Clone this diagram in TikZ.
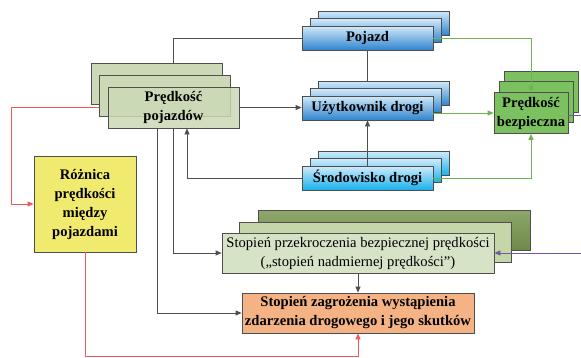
\documentclass[tikz,border=0pt]{standalone}
\usepackage{fontspec}
\setmainfont{Liberation Serif}
\usetikzlibrary{arrows.meta}
\definecolor{edge}{HTML}{4F4F4F}
\definecolor{pvgreen}{HTML}{CCD9B6}
\definecolor{blueTop}{HTML}{D2EAF9}
\definecolor{blueBot}{HTML}{2F84CE}
\definecolor{cyanBot}{HTML}{17B2EE}
\definecolor{pbgreen}{HTML}{7CC15F}
\definecolor{prA}{HTML}{D7E3C7}
\definecolor{prB}{HTML}{C5D6A8}
\definecolor{prC}{HTML}{7A9850}
\definecolor{zgorange}{HTML}{F4B285}
\definecolor{rzyellow}{HTML}{F0EB6E}
\definecolor{lnred}{HTML}{F25858}
\definecolor{lngreen}{HTML}{6DB34F}
\definecolor{lnpurple}{HTML}{6E5AA8}
\tikzset{
  bx/.style={draw=edge, line width=0.8pt, inner sep=0pt, align=center,
    font=\fontsize{14.6}{19}\selectfont\bfseries},
  bluebox/.style={bx, top color=blueTop, bottom color=blueBot, minimum width=131pt, minimum height=24pt},
  cyanbox/.style={bx, top color=blueTop, bottom color=cyanBot, minimum width=131pt, minimum height=24pt},
  pvbox/.style={bx, fill=pvgreen, minimum width=131pt, minimum height=41pt},
  pbbox/.style={bx, fill=pbgreen, minimum width=74pt, minimum height=41pt},
  prbox/.style={bx, minimum width=272pt, minimum height=40pt},
  conn/.style={draw=edge, line width=0.8pt},
  arr/.style={conn, -{Triangle[length=6pt,width=5pt]}},
  redarr/.style={draw=lnred, line width=0.8pt, -{Triangle[length=6pt,width=5pt]}},
  grnarr/.style={draw=lngreen, line width=0.8pt, -{Triangle[length=6pt,width=5pt]}},
  purarr/.style={draw=lnpurple, line width=0.8pt, -{Triangle[length=6pt,width=5pt]}},
}
\begin{document}
\begin{tikzpicture}[x=1pt,y=-1pt]
\clip (0,0) rectangle (581,357);
\fill[white] (0,0) rectangle (581,357);
% Prędkość pojazdów stack
\node[pvbox] (pv3) at (156.5,83.5) {};
\node[pvbox] (pv2) at (164.5,96) {};
\node[pvbox, fill opacity=0.85, text opacity=1] (pv) at (173.5,107.5) {Prędkość\\pojazdów};
% Pojazd stack
\node[bluebox] (pj3) at (383.5,23) {};
\node[bluebox] (pj2) at (375.5,30.5) {};
\node[bluebox] (pj) at (367.5,38) {Pojazd};
% Użytkownik drogi stack
\node[bluebox] (u3) at (383.5,93) {};
\node[bluebox] (u2) at (375.5,100.5) {};
\node[bluebox] (u) at (367.5,108) {Użytkownik drogi};
% Środowisko drogi stack
\node[cyanbox] (sr3) at (383.5,163) {};
\node[cyanbox] (sr2) at (375.5,170.5) {};
\node[cyanbox] (sr) at (367.5,178) {Środowisko drogi};
% Prędkość bezpieczna stack
\node[pbbox] (pb3) at (541,91.5) {};
\node[pbbox] (pb2) at (536,102) {};
\node[pbbox] (pb) at (531,113) {Prędkość\\bezpieczna};
% Stopień przekroczenia stack
\node[prbox, top color=prC!85!white, bottom color=prC!90!black] (pr3) at (394,230) {};
\node[prbox, fill=prB] (pr2) at (375.5,242) {};
\node[prbox, fill=prA, font=\fontsize{14.6}{19}\selectfont] (pr) at (358,253)
  {Stopień przekroczenia bezpiecznej prędkości\\(„stopień nadmiernej prędkości”)};
% Stopień zagrożenia
\node[bx, fill=zgorange, minimum width=232pt, minimum height=40pt] (zg) at (358,313)
  {Stopień zagrożenia wystąpienia\\zdarzenia drogowego i jego skutków};
% Różnica
\node[bx, fill=rzyellow, minimum width=102pt, minimum height=96pt] (rz) at (85,204)
  {Różnica\\prędkości\\między\\pojazdami};
% helper coordinates
\coordinate (rl) at (11,0);
\coordinate (rb) at (358,356);
% gray connectors
\draw[conn] (pv.north |- pv3.north) -- (pv.north |- pj.west) -- (pj.west);
\draw[arr] (pv.east) -- (pv.east -| u.west);
\draw[conn] (pj.south) -- (pj.south |- u3.north);
\draw[arr] (sr.north) -- (u.south);
\draw[arr] (sr.west) -| ([xshift=13.5pt]pv.south);
\draw[arr] (pv.south) |- (pr.west);
\draw[arr] ([xshift=-16.5pt]pv.south) |- (zg.west);
\draw[arr] (pr.south) -- (zg.north);
% red connectors
\draw[redarr] (pv2.west |- pv.west) -- (rl |- pv.west) |- (rz.west);
\draw[redarr] (rz.south) |- (rb) -- (zg.south);
% green connectors
\draw[grnarr] (pj.east) -- (pj.east -| pb.north) -- (pb.north);
\draw[grnarr] (u.east |- pb.west) -- (pb.west);
\draw[grnarr] (sr.east) -| (pb.south);
% purple connector
\draw[purarr] ([yshift=-2pt]pb.east) -- ++(40,0) |- (pr.east);
\end{tikzpicture}
\end{document}
